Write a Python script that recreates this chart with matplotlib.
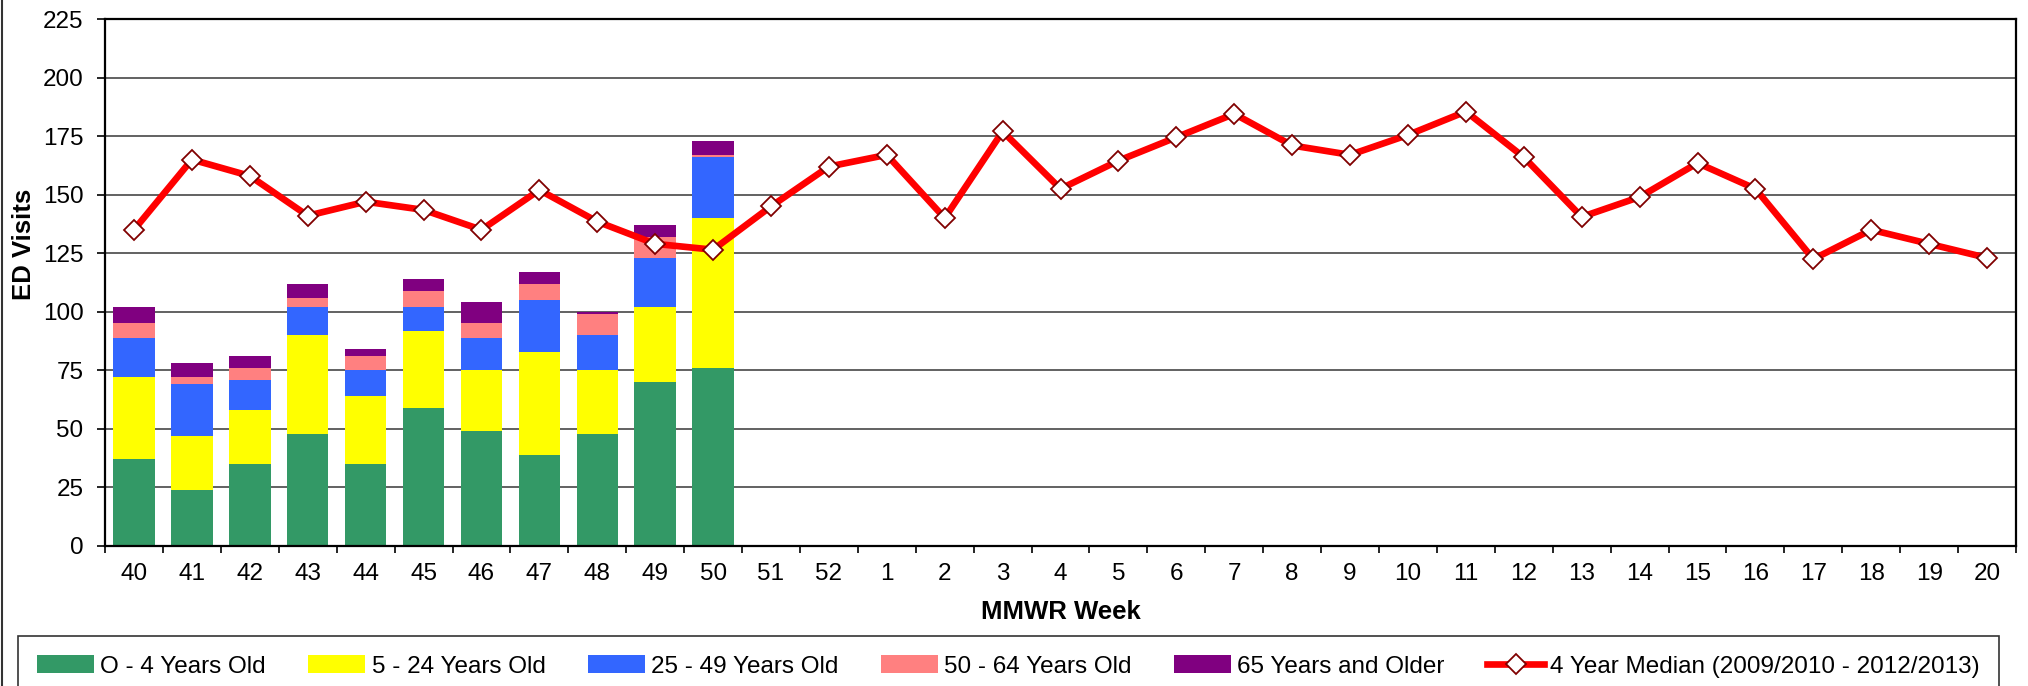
import matplotlib
matplotlib.use("Agg")
import matplotlib.pyplot as plt
import numpy as np
from matplotlib.lines import Line2D

plt.rcParams['font.family'] = ['Liberation Sans', 'DejaVu Sans']

weeks = ['40', '41', '42', '43', '44', '45', '46', '47', '48', '49', '50', '51', '52',
         '1', '2', '3', '4', '5', '6', '7', '8', '9', '10', '11', '12', '13', '14',
         '15', '16', '17', '18', '19', '20']

age_0_4 = [37, 24, 35, 48, 35, 59, 49, 39, 48, 70, 76]
age_5_24 = [35, 23, 23, 42, 29, 33, 26, 44, 27, 32, 64]
age_25_49 = [17, 22, 13, 12, 11, 10, 14, 22, 15, 21, 26]
age_50_64 = [6, 3, 5, 4, 6, 7, 6, 7, 9, 9, 1]
age_65_up = [7, 6, 5, 6, 3, 5, 9, 5, 1, 5, 6]

median = [135, 165, 158, 141, 147, 143.5, 135, 152, 138.5, 129, 126.5, 145, 162,
          167, 140, 177, 152.5, 164.5, 174.5, 184.5, 171, 167, 175.5, 185.5, 166,
          140.5, 149, 163.5, 152.5, 122.5, 135, 129, 123]

series = [
    ("O - 4 Years Old", age_0_4, "#339966"),
    ("5 - 24 Years Old", age_5_24, "#FFFF00"),
    ("25 - 49 Years Old", age_25_49, "#3366FF"),
    ("50 - 64 Years Old", age_50_64, "#FF8080"),
    ("65 Years and Older", age_65_up, "#800080"),
]

fig = plt.figure(figsize=(20.28, 6.86), dpi=100)
ax = fig.add_axes([0.0518, 0.2041, 0.9423, 0.7682])

x = np.arange(len(weeks))
xb = np.arange(len(age_0_4))
bottom = np.zeros(len(age_0_4))
handles = []
for label, vals, color in series:
    b = ax.bar(xb, vals, bottom=bottom, width=0.715, color=color, label=label, zorder=2)
    bottom += np.array(vals)
    handles.append(b)

ln, = ax.plot(x, median, color='#FF0000', lw=4.8, marker='D', markersize=10.5,
              markerfacecolor='white', markeredgecolor='#800000', markeredgewidth=1.3,
              label='4 Year Median (2009/2010 - 2012/2013)', zorder=3)
handles.append(ln)

ax.set_xlim(-0.5, len(weeks) - 0.5)
ax.set_ylim(0, 225)
ax.set_yticks(np.arange(0, 226, 25))
ax.yaxis.grid(True, color='#555555', lw=1.3, zorder=0)
ax.set_axisbelow(True)
ax.set_xticks(x)
ax.set_xticklabels(weeks)
ax.set_xticks(np.arange(-0.5, len(weeks), 1), minor=True)
ax.tick_params(axis='x', which='major', length=0, labelsize=17.5, pad=12.5)
ax.tick_params(axis='x', which='minor', length=5, width=1.2, direction='out')
ax.tick_params(axis='y', length=5.5, width=1.2, direction='out', labelsize=17.5, pad=10)
for s in ax.spines.values():
    s.set_color('black')
    s.set_linewidth(1.6)

ax.set_xlabel('MMWR Week', fontsize=18.5, fontweight='bold')
ax.xaxis.set_label_coords(0.5, -0.125)
ax.xaxis.label.set_va('center')
ax.set_ylabel('ED Visits', fontsize=18.5, fontweight='bold')
ax.yaxis.set_label_coords(-0.0424, 0.573)
ax.yaxis.label.set_va('center')

leg = fig.legend(handles=handles, loc='upper left',
                 bbox_to_anchor=(0.0087, 0.0729, 0.9854 - 0.0087 + 0.0005, 0.0),
                 mode='expand', ncol=6, fontsize=17.5, frameon=True, fancybox=False,
                 edgecolor='black', handlelength=2.35, handleheight=0.75,
                 handletextpad=0.25, borderpad=0.8, borderaxespad=0)
leg.get_frame().set_linewidth(1.2)

fig.add_artist(Line2D([0.0008, 0.0008], [0, 1], color='#333333', lw=1.5,
                      transform=fig.transFigure))

fig.savefig('out.png', dpi=100, facecolor='white')
